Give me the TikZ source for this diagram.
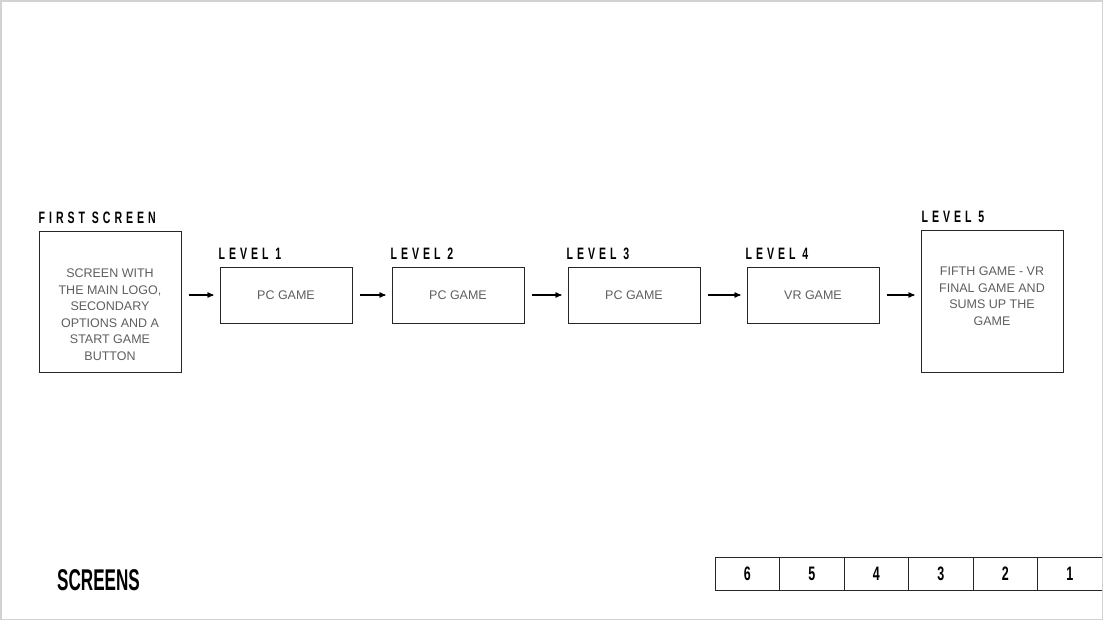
\documentclass[tikz,border=0pt]{standalone}
\usepackage{fontspec}
\setmainfont{Liberation Sans}
\newfontfamily\headfont[FakeStretch=0.64]{Liberation Sans}
\newfontfamily\titlefont[FakeStretch=0.57]{Liberation Sans}
\newfontfamily\lblfont[FakeStretch=0.64,LetterSpace=24]{Liberation Sans}
\usetikzlibrary{arrows,positioning}
\definecolor{boxgray}{HTML}{5E5E5E}
\definecolor{framegray}{HTML}{D2D2D2}
\tikzset{
>=stealth',
  screenbox/.style={
    rectangle,
    draw=black!85, line width=1pt,
    minimum width=142pt,
    minimum height=141pt,
    inner sep=0pt},
  levelbox/.style={
    rectangle,
    draw=black!85, line width=1pt,
    minimum width=132pt,
    minimum height=56pt,
    text=boxgray,
    font=\fontsize{12.5}{16.5}\selectfont},
  boxtext/.style={
    text=boxgray,
    align=center,
    font=\fontsize{12.5}{16.5}\selectfont},
  lbl/.style={
    font=\lblfont\bfseries\fontsize{16.5}{16.5}\selectfont,
    anchor=south west, inner sep=0pt, yshift=7pt, xshift=-1pt},
  flow/.style={->, line width=1.2pt, shorten <=7pt, shorten >=6pt},
  tabcell/.style={
    rectangle,
    draw=black!85, line width=1pt,
    minimum width=64.5pt,
    minimum height=33pt,
    text height=14pt, text depth=0pt,
    font=\headfont\bfseries\fontsize{19.5}{19.5}\selectfont},
}
\begin{document}
\begin{tikzpicture}[x=1pt,y=-1pt]
\useasboundingbox (0,0) rectangle (1104,622);

\node[screenbox] (fs) at (110,301.5) {};
\node[boxtext] (fstext) at ([yshift=-13pt]fs.center) {
SCREEN WITH\\ THE MAIN LOGO,\\ SECONDARY\\ OPTIONS AND A\\ START GAME\\ BUTTON
};

\node[levelbox, right=38pt of fs, yshift=6.5pt] (lvl1) {PC GAME};
\node[levelbox, right=39pt of lvl1] (lvl2) {PC GAME};
\node[levelbox, right=43pt of lvl2] (lvl3) {PC GAME};
\node[levelbox, right=46pt of lvl3] (lvl4) {VR GAME};

\node[screenbox, minimum height=142pt, right=41pt of lvl4, yshift=-6pt] (lvl5) {};
\node[boxtext] (lvl5text) at ([yshift=5pt]lvl5.center) {
FIFTH GAME - VR\\ FINAL GAME AND\\ SUMS UP THE\\ GAME
};

\node[lbl, xshift=1pt] (fslbl) at (fs.north west) {FIRST SCREEN};
\node[lbl] (lbl1) at (lvl1.north west) {LEVEL 1};
\node[lbl] (lbl2) at (lvl2.north west) {LEVEL 2};
\node[lbl] (lbl3) at (lvl3.north west) {LEVEL 3};
\node[lbl] (lbl4) at (lvl4.north west) {LEVEL 4};
\node[lbl, xshift=2pt] (lbl5) at (lvl5.north west) {LEVEL 5};

\draw [flow] (fs.east |- lvl1.west) -- (lvl1.west);
\draw [flow] (lvl1) -- (lvl2);
\draw [flow] (lvl2) -- (lvl3);
\draw [flow] (lvl3) -- (lvl4);
\draw [flow] (lvl4.east) -- (lvl4.east -| lvl5.west);

\node[font=\titlefont\bfseries\fontsize{30}{30}\selectfont, anchor=base west, inner sep=0pt] (title) at (57,590) {SCREENS};

\foreach \n [count=\i] in {6,5,4,3,2,1}
  \node[tabcell] (tab\n) at (715+64.5*\i-32.25,573.5) {\n};

%\draw [->] (tab1) -- (tab6);
\draw[framegray, line width=1.5pt] (1,1) rectangle (1102.5,619.5);

\end{tikzpicture}
\end{document}
